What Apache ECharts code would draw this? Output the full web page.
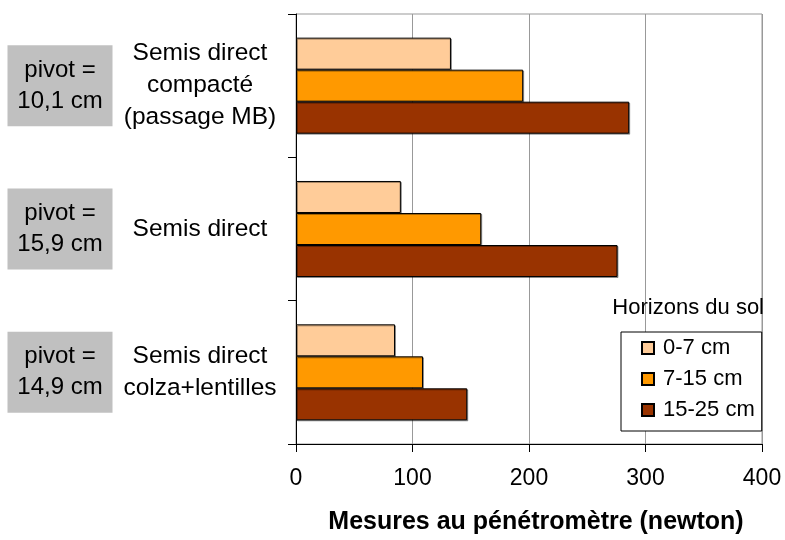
<!DOCTYPE html>
<html>
<head>
<meta charset="utf-8">
<script src="https://cdn.jsdelivr.net/npm/echarts@6/dist/echarts.min.js"></script>
<style>html,body{margin:0;padding:0;background:#fff;}#c{width:785px;height:540px;}</style>
</head>
<body>
<div id="c"></div>
<script>
const categories = ['Semis direct\ncompacté\n(passage MB)', 'Semis direct', 'Semis direct\ncolza+lentilles'];
const pivots = ['pivot =\n10,1 cm', 'pivot =\n15,9 cm', 'pivot =\n14,9 cm'];
const horizons = ['0-7 cm', '7-15 cm', '15-25 cm'];
const v0_7 = [133, 90, 85];
const v7_15 = [195, 159, 109];
const v15_25 = [286, 276, 147];
const xTicks = [0, 100, 200, 300, 400];
const colors = ['#FFCC99', '#FF9900', '#993300'];

const FONT = "'Liberation Sans', Arial, sans-serif";
const seriesValues = [v0_7, v7_15, v15_25];

const chart = echarts.init(document.getElementById('c'), null, {renderer: 'canvas'});
chart.setOption({
  animation: false,
  textStyle: {fontFamily: FONT, color: '#000'},
  title: {
    text: 'Horizons du sol', right: 21, top: 297, padding: 0,
    textStyle: {fontFamily: FONT, fontSize: 22, fontWeight: 'normal', color: '#000', lineHeight: 22}
  },
  legend: {
    orient: 'vertical', left: 621, top: 332,
    backgroundColor: '#fff', borderColor: '#000', borderWidth: 1,
    padding: [5, 7, 10, 20], itemWidth: 12, itemHeight: 12, itemGap: 9,
    icon: 'rect',
    textStyle: {fontFamily: FONT, fontSize: 22, color: '#000', lineHeight: 22, padding: [0, 0, 0, 4]},
    data: horizons
  },
  grid: {left: 296, right: 23, top: 14, bottom: 90, show: true, borderColor: '#999', borderWidth: 1, backgroundColor: 'transparent'},
  xAxis: {
    type: 'value', min: xTicks[0], max: xTicks[xTicks.length - 1], interval: 100,
    axisLine: {show: true, lineStyle: {color: '#000', width: 1}},
    axisTick: {show: true, length: 8, lineStyle: {color: '#000'}},
    splitLine: {show: true, lineStyle: {color: '#999', width: 1}},
    axisLabel: {fontFamily: FONT, fontSize: 23, color: '#000', margin: 23, lineHeight: 24},
    name: 'Mesures au pénétromètre (newton)', nameLocation: 'middle', nameGap: 65,
    nameTextStyle: {fontFamily: FONT, fontSize: 25, fontWeight: 'bold', color: '#000', lineHeight: 26, padding: [0, 0, 0, 14]}
  },
  yAxis: [{
    type: 'category', data: categories, inverse: true,
    axisLine: {show: true, lineStyle: {color: '#000', width: 1}},
    axisTick: {show: true, length: 8, lineStyle: {color: '#000'}},
    splitLine: {show: false},
    axisLabel: {fontFamily: FONT, fontSize: 24.5, color: '#000', margin: 96, align: 'center', lineHeight: 32}
  }, {
    type: 'category', data: categories, inverse: true, position: 'left', offset: 0,
    axisLine: {show: false}, axisTick: {show: false}, splitLine: {show: false},
    axisLabel: {
      formatter: function (v, i) { return pivots[i]; },
      fontFamily: FONT, fontSize: 24, color: '#000', margin: 236, align: 'center',
      lineHeight: 31, backgroundColor: '#C0C0C0', width: 105, padding: [9, 0, 10, 0]
    }
  }],
  series: horizons.map(function (name, k) {
    return {
      name: name, type: 'bar', yAxisIndex: 0,
      data: seriesValues[k],
      barCategoryGap: '33%', barGap: '0%',
      itemStyle: {color: colors[k], borderColor: '#000', borderWidth: 1,
        shadowColor: 'rgba(0,0,0,0.35)', shadowOffsetX: 1, shadowOffsetY: 1, shadowBlur: 0}
    };
  })
});
</script>
</body>
</html>
